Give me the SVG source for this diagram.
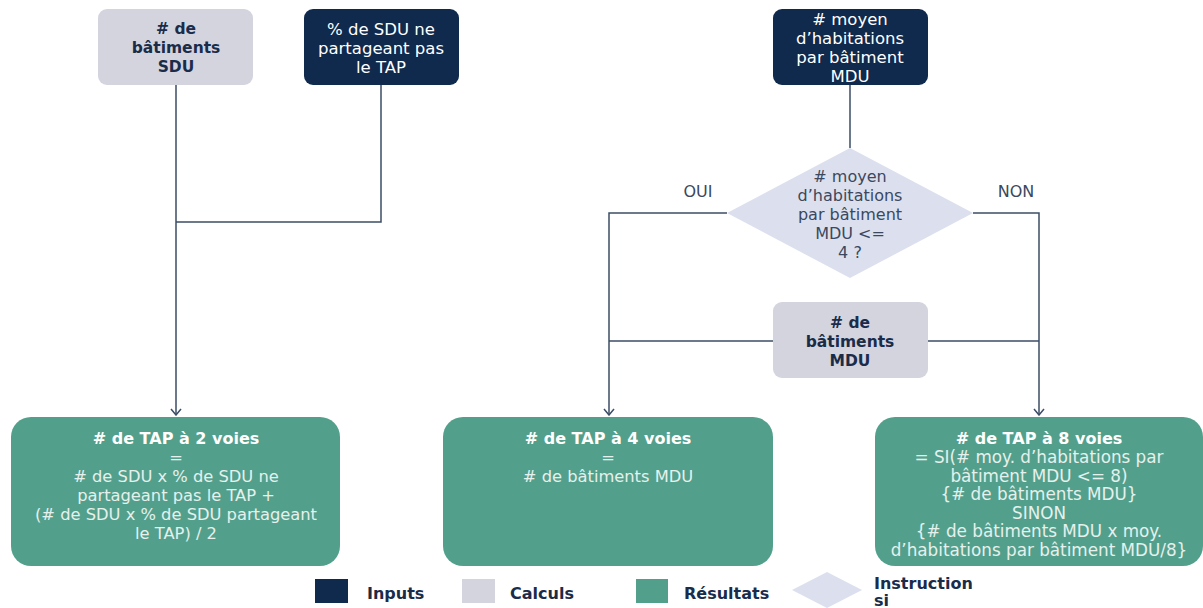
<svg xmlns="http://www.w3.org/2000/svg" width="1203" height="608" viewBox="0 0 1203 608">
  <style>
    text { font-family: "DejaVu Sans", Verdana, sans-serif; text-anchor: middle; }
    .input { fill: #0f2a4d; }
    .calc { fill: #d3d4dd; }
    .res { fill: #52a08c; }
    .cond { fill: #dce0ee; }
    .tin { fill: #ffffff; font-size: 16.5px; }
    .tcalc { fill: #1a2c4a; font-size: 15.5px; font-weight: bold; }
    .tcond { fill: #3a4860; font-size: 16px; }
    .tres { fill: #e6f0ec; font-size: 16.3px; }
    .tres8 { fill: #e6f0ec; font-size: 16.8px; }
    .tresb { fill: #ffffff; font-size: 16px; font-weight: bold; }
    .lbl { fill: #3a4860; font-size: 16px; }
    .leg { fill: #1a2c4a; font-size: 16px; font-weight: bold; text-anchor: start; }
    .wire { fill: none; stroke: #3b4d66; stroke-width: 1.5; }
  </style>
  <defs>
    <marker id="arrow" viewBox="0 0 12 12" refX="11" refY="6" markerWidth="12" markerHeight="12" markerUnits="userSpaceOnUse" orient="auto">
      <path d="M5,1 L11,6 L5,11" fill="none" stroke="#3b4d66" stroke-width="1.5"/>
    </marker>
  </defs>

  <!-- connectors -->
  <g id="connectors">
    <path class="wire" d="M176,85 V415" marker-end="url(#arrow)"/>
    <path class="wire" d="M381,85 V222 H176"/>
    <path class="wire" d="M850,85 V148"/>
    <path class="wire" d="M727,213 H609 V415" marker-end="url(#arrow)"/>
    <path class="wire" d="M973,213 H1039 V415" marker-end="url(#arrow)"/>
    <path class="wire" d="M773,341 H609"/>
    <path class="wire" d="M928,341 H1039"/>
    <text class="lbl" x="698" y="197">OUI</text>
    <text class="lbl" x="1016" y="197">NON</text>
  </g>

  <!-- calculated: number of SDU buildings -->
  <g id="calc-sdu">
    <rect class="calc" x="98" y="9" width="155" height="76" rx="9"/>
    <text class="tcalc" x="176" y="34"><tspan x="176"># de</tspan><tspan x="176" dy="19">bâtiments</tspan><tspan x="176" dy="19">SDU</tspan></text>
  </g>

  <!-- input: share of SDU not sharing the TAP -->
  <g id="input-sdu-share">
    <rect class="input" x="304" y="9" width="155" height="76" rx="9"/>
    <text class="tin" x="381" y="35"><tspan x="381">% de SDU ne</tspan><tspan x="381" dy="19">partageant pas</tspan><tspan x="381" dy="19">le TAP</tspan></text>
  </g>

  <!-- input: average dwellings per MDU building -->
  <g id="input-mdu-avg">
    <rect class="input" x="773" y="9" width="155" height="76" rx="9"/>
    <text class="tin" x="850" y="25"><tspan x="850"># moyen</tspan><tspan x="850" dy="19">d’habitations</tspan><tspan x="850" dy="19">par bâtiment</tspan><tspan x="850" dy="19">MDU</tspan></text>
  </g>

  <!-- decision -->
  <g id="decision">
    <polygon class="cond" points="850,148 973,213 850,278 727,213"/>
    <text class="tcond" x="850" y="182"><tspan x="850"># moyen</tspan><tspan x="850" dy="19">d’habitations</tspan><tspan x="850" dy="19">par bâtiment</tspan><tspan x="850" dy="19">MDU &lt;=</tspan><tspan x="850" dy="19">4 ?</tspan></text>
  </g>

  <!-- calculated: number of MDU buildings -->
  <g id="calc-mdu">
    <rect class="calc" x="773" y="302" width="155" height="76" rx="9"/>
    <text class="tcalc" x="850" y="328"><tspan x="850"># de</tspan><tspan x="850" dy="19">bâtiments</tspan><tspan x="850" dy="19">MDU</tspan></text>
  </g>

  <!-- result: 2-way TAP -->
  <g id="res-2">
    <rect class="res" x="11" y="417" width="329" height="149" rx="20"/>
    <text class="tresb" x="176" y="444"># de TAP à 2 voies</text>
    <text class="tres" x="176" y="463"><tspan x="176">=</tspan><tspan x="176" dy="19"># de SDU x % de SDU ne</tspan><tspan x="176" dy="19">partageant pas le TAP +</tspan><tspan x="176" dy="19">(# de SDU x % de SDU partageant</tspan><tspan x="176" dy="19">le TAP) / 2</tspan></text>
  </g>

  <!-- result: 4-way TAP -->
  <g id="res-4">
    <rect class="res" x="443" y="417" width="330" height="149" rx="20"/>
    <text class="tresb" x="608" y="444"># de TAP à 4 voies</text>
    <text class="tres" x="608" y="463"><tspan x="608">=</tspan><tspan x="608" dy="19"># de bâtiments MDU</tspan></text>
  </g>

  <!-- result: 8-way TAP -->
  <g id="res-8">
    <rect class="res" x="875" y="417" width="328" height="149" rx="20"/>
    <text class="tresb" x="1039" y="444"># de TAP à 8 voies</text>
    <text class="tres8" x="1039" y="463"><tspan x="1039">= SI(# moy. d’habitations par</tspan><tspan x="1039" dy="18.5">bâtiment MDU &lt;= 8)</tspan><tspan x="1039" dy="18.5">{# de bâtiments MDU}</tspan><tspan x="1039" dy="18.5">SINON</tspan><tspan x="1039" dy="18.5">{# de bâtiments MDU x moy.</tspan><tspan x="1039" dy="18.5">d’habitations par bâtiment MDU/8}</tspan></text>
  </g>

  <!-- legend -->
  <g id="legend">
    <rect class="input" x="315" y="579" width="33" height="24"/>
    <text class="leg" x="367" y="599">Inputs</text>
    <rect class="calc" x="462" y="579" width="33" height="24"/>
    <text class="leg" x="510" y="599">Calculs</text>
    <rect class="res" x="636" y="579" width="32" height="24"/>
    <text class="leg" x="684" y="599">Résultats</text>
    <polygon class="cond" points="827,572 862,590 827,608 792,590"/>
    <text class="leg" x="874" y="589">Instruction</text>
    <text class="leg" x="874" y="606">si</text>
  </g>
</svg>
